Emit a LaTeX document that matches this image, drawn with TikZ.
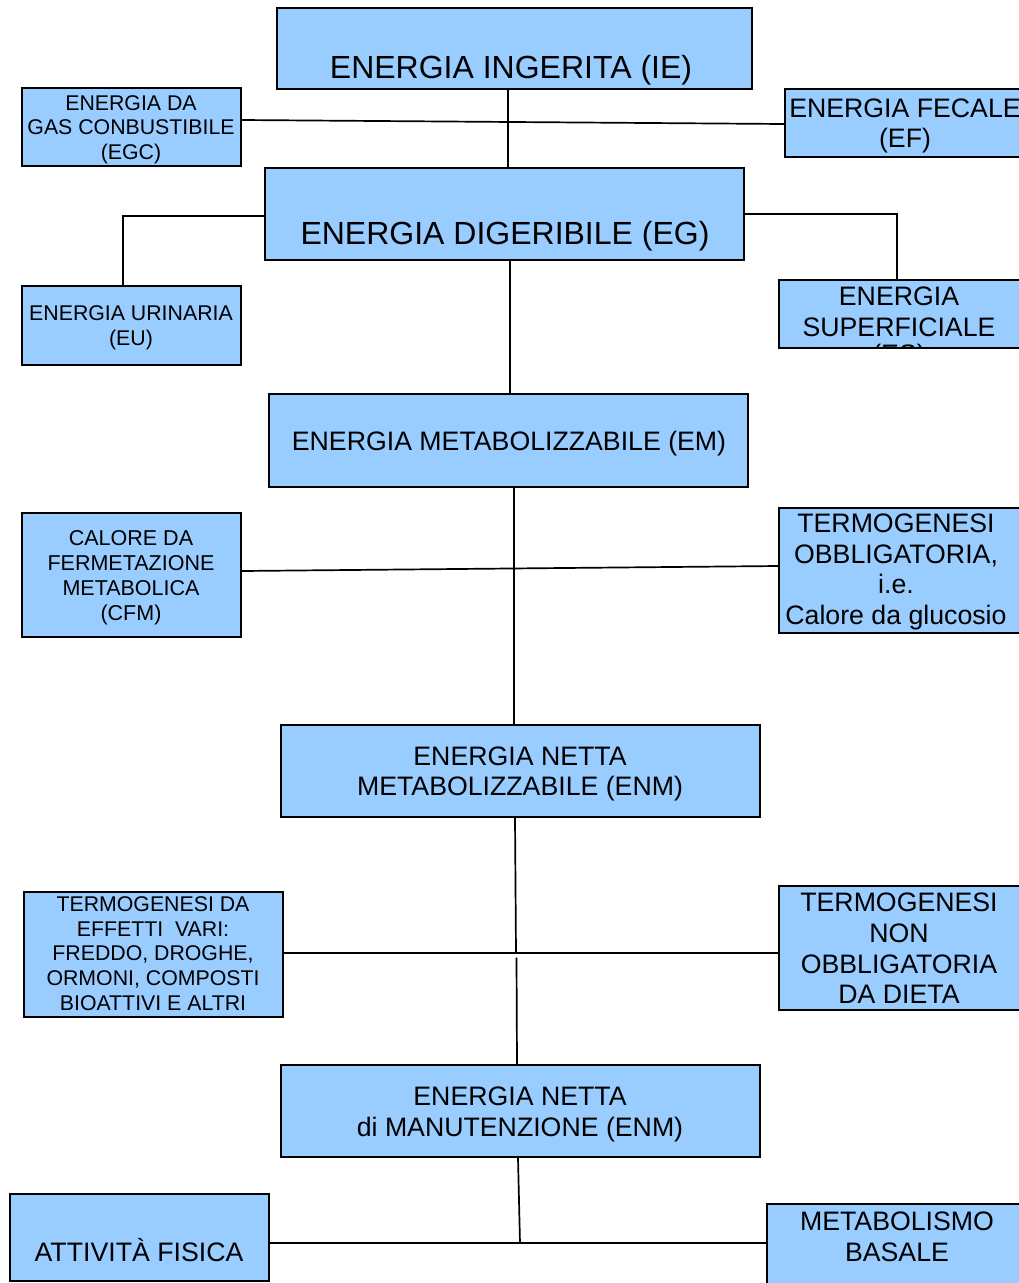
\documentclass[tikz,border=0pt]{standalone}
\usepackage{fontspec}
\setmainfont{Liberation Sans}
\definecolor{boxblue}{HTML}{99CCFF}
\begin{document}
\begin{tikzpicture}[x=1pt,y=-1pt,
  box/.style={draw=black,line width=1.8pt,fill=boxblue,inner sep=0pt,rectangle},
  lbl/.style={align=center,inner sep=0pt},
  big/.style={lbl,font=\fontsize{32}{38}\selectfont},
  mid/.style={lbl,font=\fontsize{26.7}{30.7}\selectfont},
  sml/.style={lbl,font=\fontsize{21.3}{24.6}\selectfont},
  conn/.style={draw=black,line width=1.7pt}]
\clip (0,0) rectangle (1019,1283);
\fill[white] (0,0) rectangle (1019,1283);
% boxes
\node[box,minimum width=475pt,minimum height=81pt] (ie) at (514.5,48.5) {};
\node[box,minimum width=219pt,minimum height=78pt] (egc) at (131.5,127) {};
\node[box,minimum width=245pt,minimum height=68pt] (ef) at (907.5,123) {};
\node[box,minimum width=479pt,minimum height=92pt] (eg) at (504.5,214) {};
\node[box,minimum width=219pt,minimum height=79pt] (eu) at (131.5,325.5) {};
\node[box,minimum width=251pt,minimum height=68pt] (es) at (904.5,314) {};
\node[box,minimum width=479pt,minimum height=93pt] (em) at (508.5,440.5) {};
\node[box,minimum width=219pt,minimum height=124pt] (cfm) at (131.5,575) {};
\node[box,minimum width=251pt,minimum height=125pt] (to) at (904.5,570.5) {};
\node[box,minimum width=479pt,minimum height=92pt] (enm1) at (520.5,771) {};
\node[box,minimum width=259pt,minimum height=125pt] (tev) at (153.5,954.5) {};
\node[box,minimum width=251pt,minimum height=124pt] (tno) at (904.5,948) {};
\node[box,minimum width=479pt,minimum height=92pt] (enm2) at (520.5,1111) {};
\node[box,minimum width=259pt,minimum height=87pt] (af) at (139.5,1237.5) {};
\node[box,minimum width=263pt,minimum height=86pt] (mb) at (898.5,1247) {};
% labels
\node[big] (tie) at (511,70) {ENERGIA INGERITA (IE)};
\node[sml] (tegc) at (131,129.5) {ENERGIA DA\\GAS CONBUSTIBILE\\(EGC)};
\node[mid] (tef) at (905,126) {ENERGIA FECALE\\(EF)};
\node[big] (teg) at (505,236) {ENERGIA DIGERIBILE (EG)};
\node[sml] (teu) at (131,328) {ENERGIA URINARIA\\(EU)};
\begin{scope}
\clip (es.north west) rectangle (es.south east);
\node[mid] (tes) at (899,328) {ENERGIA\\SUPERFICIALE\\[-4pt](ES)};
\end{scope}
\node[mid] (tem) at (509,443.5) {ENERGIA METABOLIZZABILE (EM)};
\node[lbl,font=\fontsize{21.5}{25}\selectfont] (tcfm) at (131,577.5) {CALORE DA\\FERMETAZIONE\\METABOLICA\\(CFM)};
\node[mid] (tto) at (896,572) {TERMOGENESI\\OBBLIGATORIA,\\i.e.\\Calore da glucosio};
\node[mid] (tenm1) at (520,774) {ENERGIA NETTA\\METABOLIZZABILE (ENM)};
\node[sml] (ttev) at (153,953.5) {TERMOGENESI DA\\EFFETTI\ \ VARI:\\FREDDO, DROGHE,\\ORMONI, COMPOSTI\\BIOATTIVI E ALTRI};
\node[mid] (ttno) at (899,948.5) {TERMOGENESI\\NON\\OBBLIGATORIA\\DA DIETA};
\node[mid] (tenm2) at (520,1114.5) {ENERGIA NETTA\\di MANUTENZIONE (ENM)};
\node[mid] (taf) at (139,1250.5) {ATTIVITÀ FISICA};
\node[mid] (tmb) at (897,1237) {METABOLISMO\\BASALE};
% junctions
\coordinate (j1) at (516,952.5);
\coordinate (j2) at (516.5,957.5);
\coordinate (j3) at (520,1243);
% connectors
\draw[conn] ([xshift=-6.5pt]ie.south) -- ([xshift=3.5pt]eg.north);
\draw[conn] ([yshift=7pt]egc.east) -- ([yshift=-1pt]ef.west);
\draw[conn] ([yshift=-2pt]eg.west) -| ([xshift=-8.5pt]eu.north);
\draw[conn] (eg.east) -| ([xshift=-7.5pt]es.north);
\draw[conn] ([xshift=5.5pt]eg.south) -- ([xshift=1.5pt]em.north);
\draw[conn] ([xshift=5.5pt]em.south) -- ([xshift=-6.5pt]enm1.north);
\draw[conn] ([yshift=4pt]cfm.east) -- ([yshift=4.5pt]to.west);
\draw[conn] ([xshift=-5.5pt]enm1.south) -- (j1);
\draw[conn] ([yshift=1.5pt]tev.east) -- ([yshift=-5pt]tno.west);
\draw[conn] (j2) -- ([xshift=-3.5pt]enm2.north);
\draw[conn] ([xshift=-2.5pt]enm2.south) -- (j3);
\draw[conn] ([yshift=-5.5pt]af.east) -- ([yshift=4pt]mb.west);
\end{tikzpicture}
\end{document}
